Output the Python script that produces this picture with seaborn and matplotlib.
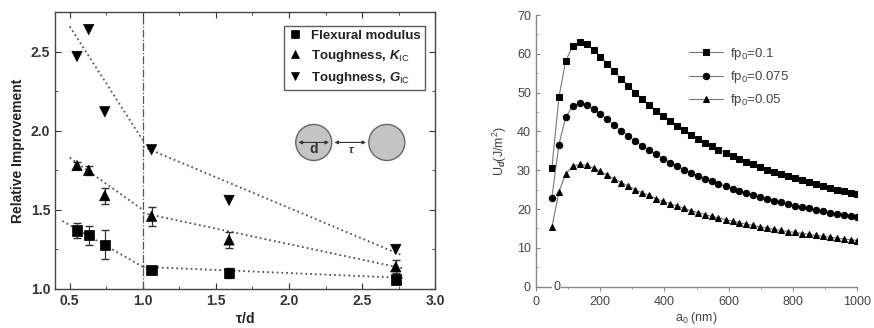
import numpy as np
import pandas as pd
import matplotlib.pyplot as plt
import seaborn as sns
from matplotlib.patches import Circle
from matplotlib.ticker import MultipleLocator


# left panel: relative improvement vs tau/d
tau_d = [0.55, 0.63, 0.74, 1.06, 1.59, 2.73]
flex = [1.37, 1.34, 1.28, 1.12, 1.10, 1.06]
flex_err = [0.05, 0.06, 0.09, 0.02, 0.03, 0.03]
k_ic = [1.78, 1.75, 1.59, 1.46, 1.31, 1.14]
k_ic_err = [0.02, 0.03, 0.05, 0.06, 0.05, 0.04]
g_ic = [2.47, 2.64, 2.12, 1.88, 1.56, 1.25]

# dotted trend lines (two segments each)
fit_x_flex_left = [0.45, 1.0]
fit_x_left = [0.5, 1.0]
fit_x_right = [1.0, 2.78]
fit_flex_left = [1.43, 1.14]
fit_flex_right = [1.14, 1.07]
fit_k_left = [1.83, 1.50]
fit_k_right = [1.48, 1.13]
fit_g_left = [2.66, 1.94]
fit_g_right = [1.90, 1.21]

# right panel: U_d vs a0
a0 = [50, 72, 93, 115, 136, 158, 180, 201, 223, 244, 266, 288, 309, 331, 352,
      374, 396, 417, 439, 460, 482, 504, 525, 547, 568, 590, 612, 633, 655, 676,
      698, 720, 741, 763, 784, 806, 828, 849, 871, 892, 914, 936, 957, 979, 1000]
ud_010 = [30.5, 48.8, 58.2, 62.0, 63.0, 62.5, 61.0, 59.3, 57.4, 55.5, 53.6, 51.8, 50.0, 48.4, 46.9,
          45.4, 44.0, 42.7, 41.5, 40.3, 39.2, 38.1, 37.1, 36.2, 35.3, 34.5, 33.7, 32.9, 32.2, 31.5,
          30.8, 30.2, 29.6, 29.0, 28.4, 27.9, 27.4, 26.9, 26.4, 25.9, 25.5, 25.0, 24.6, 24.2, 23.8]
ud_0075 = [22.9, 36.6, 43.7, 46.5, 47.3, 46.9, 45.8, 44.5, 43.1, 41.6, 40.2, 38.9, 37.5, 36.3, 35.2,
           34.1, 33.0, 32.0, 31.1, 30.2, 29.4, 28.6, 27.8, 27.2, 26.5, 25.9, 25.3, 24.7, 24.2, 23.6,
           23.1, 22.7, 22.2, 21.8, 21.3, 20.9, 20.6, 20.2, 19.8, 19.4, 19.1, 18.8, 18.5, 18.2, 17.9]
ud_005 = [15.3, 24.4, 29.1, 31.0, 31.5, 31.3, 30.5, 29.7, 28.7, 27.8, 26.8, 25.9, 25.0, 24.2, 23.5,
          22.7, 22.0, 21.4, 20.8, 20.2, 19.6, 19.1, 18.6, 18.1, 17.7, 17.3, 16.9, 16.5, 16.1, 15.8,
          15.4, 15.1, 14.8, 14.5, 14.2, 14.0, 13.7, 13.5, 13.2, 13.0, 12.8, 12.5, 12.3, 12.1, 11.9]


sns.set_style("ticks")
plt.rcParams["font.family"] = ["Liberation Sans", "DejaVu Sans"]
plt.rcParams["mathtext.fontset"] = "custom"
plt.rcParams["mathtext.rm"] = "Liberation Sans"
plt.rcParams["mathtext.it"] = "Liberation Sans:italic:bold"
plt.rcParams["mathtext.bf"] = "Liberation Sans:bold"

fig = plt.figure(figsize=(8.74, 3.28), dpi=100)
ax1 = fig.add_axes([0.063, 0.119, 0.435, 0.844])
ax2 = fig.add_axes([0.613, 0.126, 0.368, 0.828])

# ---- left panel ----
fitc = "#555555"
for xs, ys in [(fit_x_flex_left, fit_flex_left), (fit_x_right, fit_flex_right),
               (fit_x_left, fit_k_left), (fit_x_right, fit_k_right),
               (fit_x_left, fit_g_left), (fit_x_right, fit_g_right)]:
    ax1.plot(xs, ys, ls=":", color=fitc, lw=1.3, zorder=1)

ax1.axvline(1.0, color="#555555", ls="-.", lw=0.9, zorder=1)

ax1.errorbar(tau_d, flex, yerr=flex_err, fmt="none", ecolor="#333333", elinewidth=0.9, capsize=3, zorder=2)
ax1.errorbar(tau_d, k_ic, yerr=k_ic_err, fmt="none", ecolor="#333333", elinewidth=0.9, capsize=3, zorder=2)

df_l = pd.DataFrame({"x": tau_d * 3,
                     "y": flex + k_ic + g_ic,
                     "s": ["Flexural modulus"] * 6 + [r"Toughness, $K_{\mathrm{IC}}$"] * 6
                          + [r"Toughness, $G_{\mathrm{IC}}$"] * 6})
sns.scatterplot(data=df_l, x="x", y="y", style="s",
                markers={"Flexural modulus": "s",
                         r"Toughness, $K_{\mathrm{IC}}$": "^",
                         r"Toughness, $G_{\mathrm{IC}}$": "v"},
                color="black", s=55, edgecolor="black", linewidth=0.5, ax=ax1, zorder=3)

ax1.set_xlim(0.4, 3.0)
ax1.set_ylim(1.0, 2.75)
ax1.xaxis.set_major_locator(MultipleLocator(0.5))
ax1.xaxis.set_minor_locator(MultipleLocator(0.25))
ax1.yaxis.set_major_locator(MultipleLocator(0.5))
ax1.yaxis.set_minor_locator(MultipleLocator(0.25))
ax1.xaxis.set_major_formatter(plt.FormatStrFormatter("%.1f"))
ax1.yaxis.set_major_formatter(plt.FormatStrFormatter("%.1f"))
ax1.tick_params(which="both", direction="in", top=True, right=True, color="#333333")
ax1.tick_params(which="major", length=4, labelsize=10)
ax1.tick_params(which="minor", length=2)
for lab in ax1.get_xticklabels() + ax1.get_yticklabels():
    lab.set_fontweight("bold")
    lab.set_color("#333333")
for sp in ax1.spines.values():
    sp.set_color("#444444")
    sp.set_linewidth(1.0)
ax1.set_xlabel(r"$\mathbf{\tau}$/d", fontsize=10, fontweight="bold", color="#222222", labelpad=2)
ax1.set_ylabel("Relative Improvement", fontsize=10, fontweight="bold", color="#222222", labelpad=4)

leg = ax1.legend(loc="upper right", bbox_to_anchor=(0.99, 0.975), frameon=True, fancybox=False,
                 edgecolor="#333333", handletextpad=0.6, borderpad=0.3, labelspacing=0.45,
                 handlelength=1.2, markerscale=0.8, prop={"weight": "bold", "size": 9.5})
leg.get_frame().set_linewidth(1.0)
for t in leg.get_texts():
    t.set_color("#222222")

# inset sketch with two particles
ins = ax1.inset_axes([0.618, 0.44, 0.316, 0.18])
ins.set_xlim(290, 410)
ins.set_ylim(165, 118)
ins.set_aspect("equal")
ins.axis("off")
for cx in [313.7, 386.7]:
    ins.add_patch(Circle((cx, 141.7), 18, facecolor="#c4c4c4", edgecolor="#666666", lw=1.0))
ins.annotate("", xy=(295.7, 141.7), xytext=(331.7, 141.7),
             arrowprops=dict(arrowstyle="<|-|>", color="#333333", lw=0.8, mutation_scale=5))
ins.annotate("", xy=(331.7, 141.7), xytext=(368.7, 141.7),
             arrowprops=dict(arrowstyle="<|-|>", color="#333333", lw=0.8, mutation_scale=5))
ins.text(313.7, 148, "d", ha="center", va="center", fontsize=10, fontweight="bold", color="#333333")
ins.text(351, 149, r"$\tau$", ha="center", va="center", fontsize=8, color="#333333")

# ---- right panel ----
for ys, mk, lab, ms in [(ud_010, "s", "fp$_0$=0.1", 4.2),
                        (ud_0075, "o", "fp$_0$=0.075", 4.6),
                        (ud_005, "^", "fp$_0$=0.05", 4.6)]:
    sns.lineplot(x=a0, y=ys, ax=ax2, color="#777777", lw=0.8, marker=mk, markersize=ms,
                 markerfacecolor="black", markeredgecolor="black", label=lab)

ax2.set_xlim(0, 1000)
ax2.set_ylim(0, 70)
ax2.xaxis.set_major_locator(MultipleLocator(200))
ax2.xaxis.set_minor_locator(MultipleLocator(100))
ax2.yaxis.set_major_locator(MultipleLocator(10))
ax2.yaxis.set_minor_locator(MultipleLocator(5))
sns.despine(ax=ax2)
for sp in ["left", "bottom"]:
    ax2.spines[sp].set_color("#888888")
    ax2.spines[sp].set_linewidth(1.0)
ax2.tick_params(axis="y", which="both", direction="in", color="#888888")
ax2.tick_params(axis="x", which="both", direction="out", color="#888888")
ax2.tick_params(which="major", length=3, labelsize=9, labelcolor="#444444")
ax2.tick_params(which="minor", length=1.5)
ax2.text(65, 0, "0", ha="center", va="center", fontsize=9, color="#444444",
         bbox=dict(facecolor="white", edgecolor="none", pad=0.5), clip_on=False)
ax2.set_xlabel("a$_0$ (nm)", fontsize=9, color="#444444", labelpad=2)
ax2.set_ylabel("U$_d$(J/m$^2$)", fontsize=9, color="#444444", labelpad=6)

leg2 = ax2.legend(loc="upper left", bbox_to_anchor=(0.44, 0.93), frameon=False,
                  handlelength=2.6, handletextpad=0.5, labelspacing=0.55, fontsize=9.5)
for t in leg2.get_texts():
    t.set_color("#444444")

fig.savefig("out.png", dpi=100)
